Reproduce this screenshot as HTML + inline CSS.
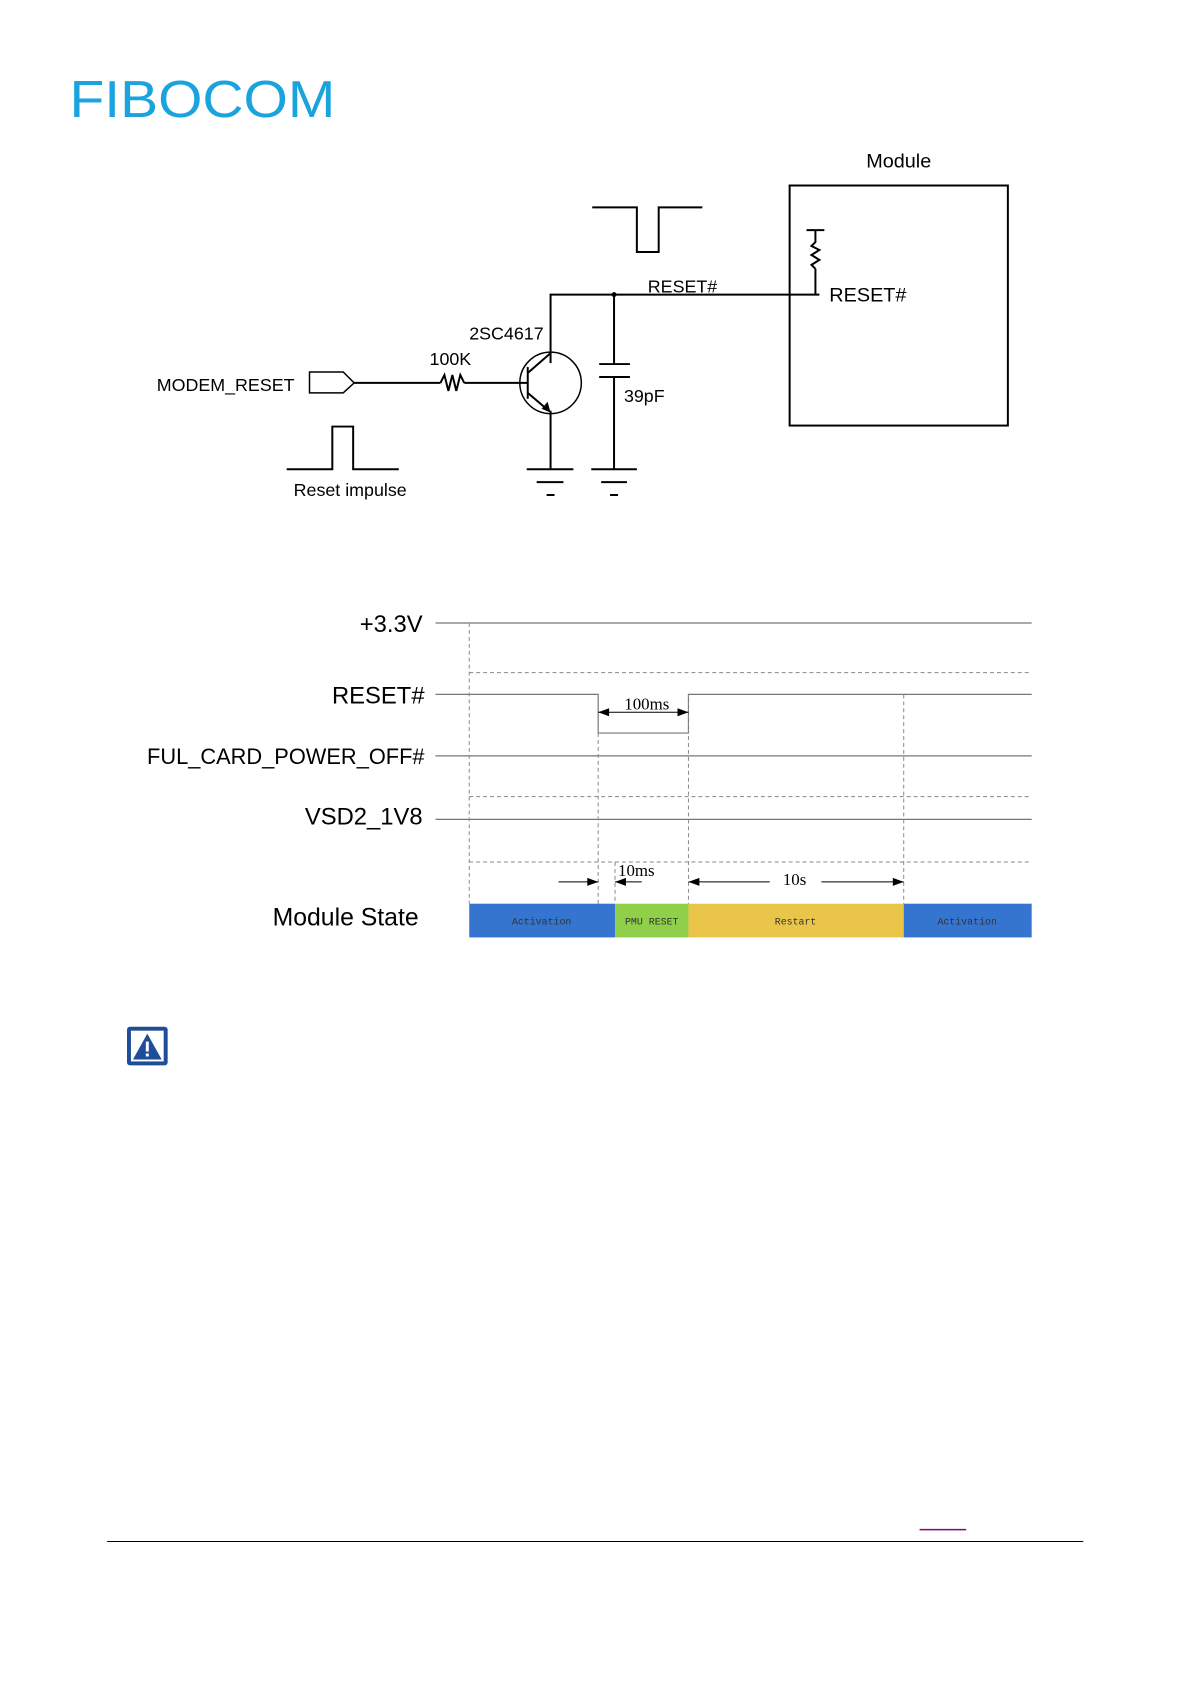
<!DOCTYPE html>
<html><head><meta charset="utf-8"><style>
html,body{margin:0;padding:0;background:#fff;}
svg{display:block}
</style></head><body>
<svg width="1191" height="1684" viewBox="0 0 1200.6 1697.6" xmlns="http://www.w3.org/2000/svg" font-family="Liberation Sans, sans-serif">
<text x="70" y="118" font-size="52" fill="#1aa3dc" textLength="268" lengthAdjust="spacingAndGlyphs">FIBOCOM</text>

<g stroke="#000" stroke-width="2" fill="none">
<rect x="796" y="187" width="220" height="242"/>
<polyline points="597,209 642,209 642,254 664,254 664,209 708,209"/>
<polyline points="555,366 555,297 826,297"/>
<line x1="822" y1="297" x2="822" y2="271"/>
<polyline points="822,271 818,267 826,262 818,257 826,252 818,248 822,244 822,232"/>
<line x1="813" y1="232" x2="831" y2="232"/>
<line x1="619" y1="297" x2="619" y2="367"/>
<line x1="604" y1="367" x2="635" y2="367"/>
<line x1="604" y1="380" x2="635" y2="380"/>
<line x1="619" y1="380" x2="619" y2="473"/>
<line x1="596" y1="473" x2="642" y2="473"/>
<line x1="606" y1="486" x2="632" y2="486"/>
<line x1="615" y1="499" x2="623" y2="499"/>
<circle cx="555" cy="386" r="31" stroke-width="1.5"/>
<line x1="357" y1="386" x2="444" y2="386"/>
<polyline points="444,386 448,378 452,394 456,378 460,394 464,378 468,386"/>
<line x1="468" y1="386" x2="532" y2="386"/>
<line x1="532" y1="370" x2="532" y2="402"/>
<line x1="532" y1="376" x2="555" y2="356"/>
<line x1="532" y1="396" x2="553" y2="414"/>
<line x1="555" y1="414" x2="555" y2="473"/>
<line x1="531" y1="473" x2="578" y2="473"/>
<line x1="541" y1="486" x2="568" y2="486"/>
<line x1="551" y1="499" x2="559" y2="499"/>
<polygon points="312,375 346,375 357,386 346,396 312,396" stroke-width="1.5"/>
<polyline points="289,473 335,473 335,430 356,430 356,473 402,473"/>
</g>
<polygon points="555,416 546,412 552,405" fill="#000"/>
<circle cx="619" cy="297" r="2.5" fill="#000"/>
<g font-size="18" fill="#000">
<text x="906" y="169" text-anchor="middle" font-size="20">Module</text>
<text x="653" y="295">RESET#</text>
<text x="836" y="304" font-size="20">RESET#</text>
<text x="473" y="342">2SC4617</text>
<text x="433" y="368">100K</text>
<text x="158" y="394">MODEM_RESET</text>
<text x="629" y="405">39pF</text>
<text x="296" y="500">Reset impulse</text>
</g>

<g stroke="#777" stroke-width="1.2" fill="none">
<line x1="439" y1="628" x2="1040" y2="628"/>
<polyline points="439,700 603,700 603,739 694,739 694,700 1040,700" />
<line x1="439" y1="762" x2="1040" y2="762"/>
<line x1="439" y1="826" x2="1040" y2="826"/>
</g>
<g stroke="#888" stroke-width="1" stroke-dasharray="4,3" fill="none">
<line x1="473" y1="678" x2="1040" y2="678"/>
<line x1="473" y1="803" x2="1040" y2="803"/>
<line x1="473" y1="869" x2="1040" y2="869"/>
<line x1="473" y1="628" x2="473" y2="911"/>
<line x1="603" y1="739" x2="603" y2="911"/>
<line x1="620" y1="869" x2="620" y2="911"/>
<line x1="694" y1="700" x2="694" y2="911"/>
<line x1="911" y1="700" x2="911" y2="911"/>
</g>
<g stroke="#000" stroke-width="1">
<line x1="603" y1="718" x2="694" y2="718"/>
<line x1="563" y1="889" x2="603" y2="889"/>
<line x1="620" y1="889" x2="647" y2="889"/>
<line x1="694" y1="889" x2="776" y2="889"/>
<line x1="828" y1="889" x2="911" y2="889"/>
</g>
<g fill="#000">
<polygon points="603,718 614,714 614,722"/>
<polygon points="694,718 683,714 683,722"/>
<polygon points="603,889 592,885 592,893"/>
<polygon points="620,889 631,885 631,893"/>
<polygon points="694,889 705,885 705,893"/>
<polygon points="911,889 900,885 900,893"/>
</g>
<g font-family="Liberation Serif, serif" font-size="17" fill="#000">
<text x="652" y="715" text-anchor="middle">100ms</text>
<text x="623" y="883">10ms</text>
<text x="801" y="892" text-anchor="middle">10s</text>
</g>
<g font-size="22" fill="#000" text-anchor="end">
<text x="426" y="637" font-size="24">+3.3V</text>
<text x="428" y="709" font-size="24">RESET#</text>
<text x="428" y="770">FUL_CARD_POWER_OFF#</text>
<text x="426" y="831" font-size="24">VSD2_1V8</text>
<text x="422" y="933" font-size="25">Module State</text>
</g>
<rect x="473" y="911" width="147" height="34" fill="#3575d0"/>
<rect x="620" y="911" width="74" height="34" fill="#8fcf4a"/>
<rect x="694" y="911" width="217" height="34" fill="#e9c64a"/>
<rect x="911" y="911" width="129" height="34" fill="#3575d0"/>
<g font-family="Liberation Mono, monospace" font-size="10" fill="#333" text-anchor="middle">
<text x="546" y="932">Activation</text>
<text x="657" y="932">PMU RESET</text>
<text x="802" y="932">Restart</text>
<text x="975" y="932">Activation</text>
</g>

<rect x="128" y="1035" width="41" height="39" rx="3" fill="#1f4e99"/>
<rect x="132" y="1039" width="33" height="31" fill="#fff"/>
<polygon points="148.5,1042 163,1068 134,1068" fill="#1f4e99"/>
<rect x="147" y="1050" width="3" height="10" fill="#fff"/>
<rect x="147" y="1062" width="3" height="3" fill="#fff"/>

<line x1="108" y1="1554" x2="1092" y2="1554" stroke="#000" stroke-width="1"/>
<line x1="927" y1="1542" x2="974" y2="1542" stroke="#800080" stroke-width="1.5"/>
</svg>
</body></html>
